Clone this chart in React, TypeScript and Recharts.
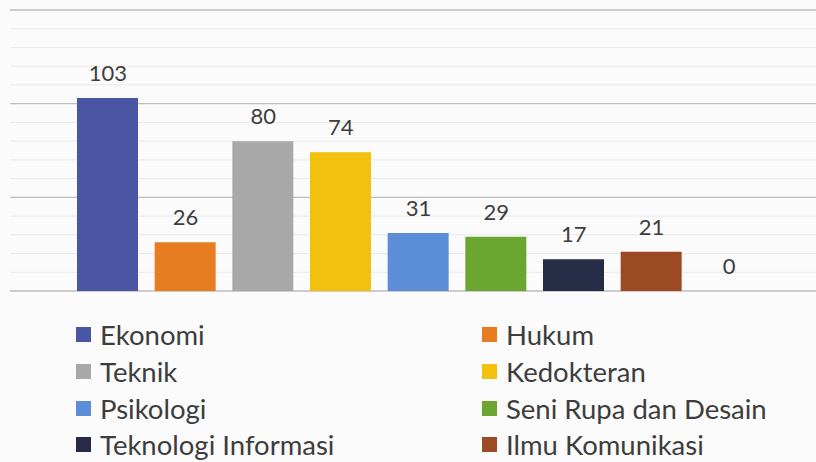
import { ComposedChart, Bar, Line, XAxis, YAxis, CartesianGrid, Cell, LabelList } from 'recharts';

// ─── Data ─────────────────────────────────────────────────────────────
const categories = [
  'Ekonomi',
  'Hukum',
  'Teknik',
  'Kedokteran',
  'Psikologi',
  'Seni Rupa dan Desain',
  'Teknologi Informasi',
  'Ilmu Komunikasi',
  'Lainnya',
];
const counts = [103, 26, 80, 74, 31, 29, 17, 21, 0];
const colors = ['#4a55a3', '#e67d22', '#a8a8a8', '#f1c10d', '#5b8ed6', '#6aa630', '#262b46', '#9b4a24', '#7f7f7f'];
const majorTicks = [0, 50, 100, 150];
const minorTicks = [10, 20, 30, 40, 60, 70, 80, 90, 110, 120, 130, 140];
// only the first eight legend entries are inside the picture
const legendCount = 8;

const chartData = categories.map((name, i) => ({ name, value: counts[i] }));

const FONT = 'Lato, "Noto Sans", sans-serif';
const TEXT = '#3d3d3d';
const Y_MAX = majorTicks[majorTicks.length - 1];

// minor gridlines: use the axis scale when it is handed over, else map the domain onto the plot
const minorLines = (props: any) => {
  const scale = props?.yAxis?.scale;
  const off = props?.offset ?? { top: 10, height: 281 };
  return minorTicks.map((t) =>
    typeof scale === 'function' ? scale(t) : off.top + off.height * (1 - t / Y_MAX)
  );
};

function LegendBlock() {
  return (
    <div style={{ position: 'absolute', top: 316, left: 0, width: 816, fontFamily: FONT }}>
      {categories.slice(0, legendCount).map((name, i) => {
        const col = i % 2;
        const row = Math.floor(i / 2);
        return (
          <div
            key={name}
            style={{
              position: 'absolute',
              left: col === 0 ? 76 : 482,
              top: row * 36.8,
              height: 37,
              display: 'flex',
              alignItems: 'center',
              whiteSpace: 'nowrap',
            }}
          >
            <span style={{ width: 15, height: 15, background: colors[i], display: 'inline-block', marginRight: 9 }} />
            <span style={{ fontSize: 27.5, color: TEXT, lineHeight: '37px' }}>{name}</span>
          </div>
        );
      })}
    </div>
  );
}

export default function App() {
  return (
    <div
      style={{
        position: 'absolute',
        top: 0,
        left: 0,
        width: 816,
        height: 462,
        overflow: 'hidden',
        background: '#fbfbfb',
      }}
    >
      <ComposedChart
        width={816}
        height={462}
        data={chartData}
        margin={{ top: 10, right: 0, left: 10, bottom: 171 }}
      >
        <CartesianGrid
          horizontal
          vertical={false}
          stroke="#e9e9e9"
          strokeWidth={1}
          horizontalCoordinatesGenerator={minorLines}
        />
        <CartesianGrid horizontal vertical={false} stroke="#bdbdbd" strokeWidth={1.3} />
        <XAxis dataKey="name" hide padding={{ left: 59, right: 48 }} />
        <YAxis hide domain={[0, Y_MAX]} ticks={majorTicks} width={0} />
        <Bar dataKey="value" barSize={61} isAnimationActive={false}>
          {chartData.map((d, i) => (
            <Cell key={d.name} fill={colors[i]} />
          ))}
        </Bar>
        <Line dataKey="value" stroke="none" dot={false} activeDot={false} isAnimationActive={false}>
          <LabelList
            dataKey="value"
            position="top"
            offset={17}
            style={{ fontSize: 22, fill: TEXT, fontFamily: FONT }}
          />
        </Line>
      </ComposedChart>
      <LegendBlock />
    </div>
  );
}
